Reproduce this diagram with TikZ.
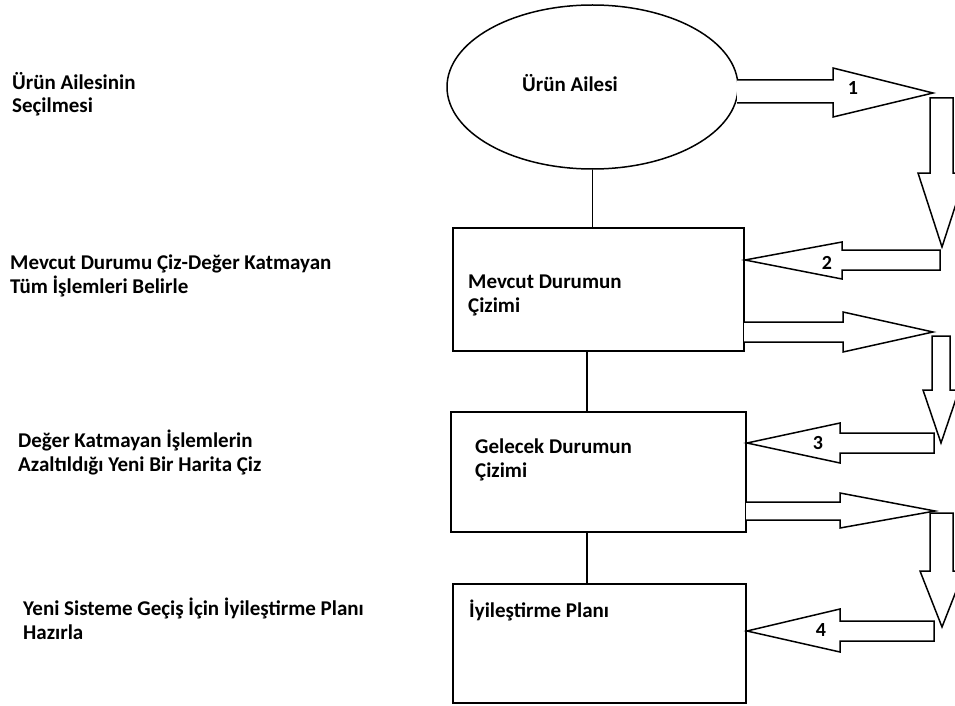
\documentclass[tikz,border=0pt]{standalone}
\usepackage{fontspec}
\setmainfont{Carlito}
\usetikzlibrary{shapes.geometric}

\tikzset{
  lbl/.style={font=\bfseries\fontsize{21}{23.5}\selectfont, inner sep=0pt, anchor=base west, align=left, text=black},
  numlbl/.style={font=\bfseries\fontsize{20}{23.5}\selectfont, inner sep=0pt, text=black},
  stagebox/.style={draw, line width=1.8pt, rectangle, inner sep=0pt},
  blockarrow/.style={draw, line width=1.5pt, line join=miter, fill=white},
  link/.style={draw, line width=1.8pt}
}

\begin{document}
\begin{tikzpicture}[x=1pt, y=-1pt]
  \useasboundingbox (0,0) rectangle (955,706);
  \clip (0,0) rectangle (955,706);

  % stage labels on the left (positions are baselines of the last line)
  \node[lbl] (t1) at (12,113) {Ürün Ailesinin\\Seçilmesi};
  \node[lbl] (t2) at (10,293) {Mevcut Durumu Çiz-Değer Katmayan\\Tüm İşlemleri Belirle};
  \node[lbl] (t3) at (18,471) {Değer Katmayan İşlemlerin\\Azaltıldığı Yeni Bir Harita Çiz};
  \node[lbl] (t4) at (23,639) {Yeni Sisteme Geçiş İçin İyileştirme Planı\\Hazırla};

  % main chain
  \node[draw, line width=1.5pt, ellipse, minimum width=291pt, minimum height=164pt, inner sep=0pt] (fam) at (592.5,87) {};
  \node[lbl] (famtxt) at (522,92) {Ürün Ailesi};

  \node[stagebox, minimum width=291pt, minimum height=123pt] (cur) at (598.5,289.5) {};
  \node[lbl] (curtxt) at (468,312) {Mevcut Durumun\\Çizimi};

  \node[stagebox, minimum width=295pt, minimum height=120pt] (fut) at (598.5,472) {};
  \node[lbl] (futtxt) at (475,477) {Gelecek Durumun\\Çizimi};

  \node[stagebox, minimum width=293pt, minimum height=119pt] (plan) at (599.5,643.5) {};
  \node[lbl] (plantxt) at (469,617) {İyileştirme Planı};

  \draw[link] (fam.south) -- (fam.south |- cur.north);
  \draw[link] (587,0 |- cur.south) -- (587,0 |- fut.north);
  \draw[link] (587,0 |- fut.south) -- (587,0 |- plan.north);

  % block arrows of the cycle
  \draw[blockarrow] (737,80) -- (833,80) -- (833,68) -- (933,93) -- (833,117) -- (833,103) -- (737,103);
  \draw[blockarrow] (930,98) -- (953,98) -- (953,173) -- (966,173) -- (942,247) -- (918,173) -- (930,173) -- cycle;
  \draw[blockarrow] (940,250) -- (842,250) -- (842,242) -- (745,260) -- (842,279) -- (842,270) -- (940,270) -- cycle;

  \draw[blockarrow] (744,322) -- (843,322) -- (843,312) -- (933,332) -- (843,352) -- (843,342) -- (744,342);
  \draw[blockarrow] (932,336) -- (950,336) -- (950,390) -- (959,390) -- (941,443) -- (923,390) -- (932,390) -- cycle;
  \draw[blockarrow] (934,433) -- (840,433) -- (840,423) -- (747,443) -- (840,463) -- (840,453) -- (934,453) -- cycle;

  \draw[blockarrow] (746,502) -- (840,502) -- (840,493) -- (935,511) -- (840,528) -- (840,520) -- (746,520);
  \draw[blockarrow] (930,513) -- (953,513) -- (953,571) -- (964,571) -- (942,627) -- (920,571) -- (930,571) -- cycle;
  \draw[blockarrow] (934,621) -- (840,621) -- (840,609) -- (747,631) -- (840,652) -- (840,641) -- (934,641) -- cycle;

  % step numbers
  \node[numlbl] (n1) at (853,88)  {1};
  \node[numlbl] (n2) at (827,263) {2};
  \node[numlbl] (n3) at (818,443) {3};
  \node[numlbl] (n4) at (821,630) {4};
\end{tikzpicture}
\end{document}
